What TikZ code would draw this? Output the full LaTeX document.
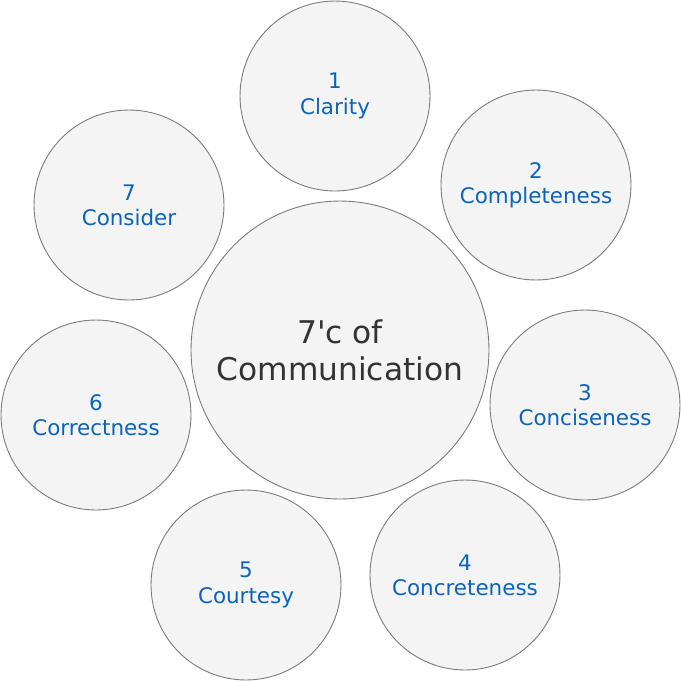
\documentclass[tikz,border=0pt]{standalone}
\usepackage{fontspec}
\setmainfont{DejaVu Sans}
\usepackage{xcolor}
\usepackage{tikz}
\definecolor{cfill}{HTML}{F4F4F4}
\definecolor{cline}{HTML}{7A7A7A}
\definecolor{cblue}{HTML}{0A64BE}
\definecolor{cdark}{HTML}{333333}
\tikzset{
  cbubble/.style={circle,draw=cline,fill=cfill,line width=0.5pt,inner sep=0pt,minimum size=3.8cm,align=center,text=cblue,font=\fontsize{12.2}{14.4}\selectfont},
  hubbubble/.style={cbubble,minimum size=5.96cm,text=cdark,font=\fontsize{17.8}{21}\selectfont}
}
\begin{document}
\begin{tikzpicture}[x=0.02cm,y=-0.02cm]
  \useasboundingbox (0,0) rectangle (681,681);
  \node[hubbubble] (hub) at (340,350) {7\textquotesingle c of\\Communication};
  \foreach \n/\x/\y/\txt in {1/335/96/Clarity,2/536/185/Completeness,3/585/405/Conciseness,4/465/575/Concreteness,5/246/585/Courtesy,6/96/415/Correctness,7/129/205/Consider}
    \node[cbubble] (c\n) at (\x,\y) {\n\\\txt};
\end{tikzpicture}
\end{document}
